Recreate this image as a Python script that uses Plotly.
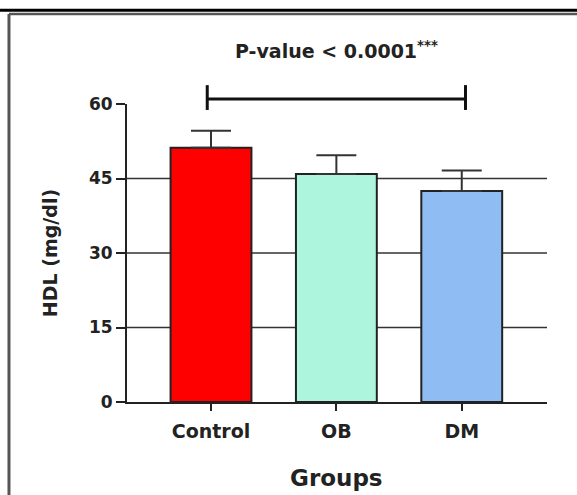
import plotly.graph_objects as go

groups = ["Control", "OB", "DM"]
hdl_mean = [51.2, 45.9, 42.5]
hdl_sd = [3.4, 3.8, 4.1]
bar_colors = ["#FF0000", "#ADF5DC", "#8FBCF2"]
y_ticks = [0, 15, 30, 45, 60]
grid_values = [15, 30, 45]
p_text = "P-value < 0.0001<sup>***</sup>"
y_title = "HDL (mg/dl)"
x_title = "Groups"

FONT = "DejaVu Sans, sans-serif"
INK = "#222222"
Y_MAX = 60

fig = go.Figure()
fig.add_trace(go.Bar(
    x=groups, y=hdl_mean, width=0.645,
    marker=dict(color=bar_colors, line=dict(color=INK, width=2)),
    error_y=dict(type="data", symmetric=False, array=hdl_sd,
                 arrayminus=[0] * len(hdl_sd), color="#333333",
                 thickness=2, width=20),
    showlegend=False,
))

shapes = []
for g in grid_values:
    shapes.append(dict(type="line", xref="paper", yref="y", x0=0, x1=1,
                       y0=g, y1=g, layer="below",
                       line=dict(color="#333333", width=1.5)))
# significance bracket (Control vs DM), above the axis range -> paper units
br_y, br_lo, br_hi = 61.0 / Y_MAX, 58.8 / Y_MAX, 63.8 / Y_MAX
br_x0, br_x1 = -0.03, 2.03
shapes.append(dict(type="line", xref="x", yref="paper", x0=br_x0, x1=br_x1,
                   y0=br_y, y1=br_y, line=dict(color="#111111", width=3)))
for xi in (br_x0, br_x1):
    shapes.append(dict(type="line", xref="x", yref="paper", x0=xi, x1=xi,
                       y0=br_lo, y1=br_hi, line=dict(color="#111111", width=3)))
# outer frame lines
shapes.append(dict(type="line", xref="paper", yref="paper", x0=-0.31, x1=1.1,
                   y0=1.315, y1=1.315, line=dict(color="#000000", width=3)))
shapes.append(dict(type="line", xref="paper", yref="paper", x0=-0.281, x1=1.1,
                   y0=1.302, y1=1.302, line=dict(color="#555555", width=2.5)))
shapes.append(dict(type="line", xref="paper", yref="paper", x0=-0.281, x1=-0.281,
                   y0=1.302, y1=-0.4, line=dict(color="#555555", width=3)))

annotations = [
    dict(text=p_text, xref="x", yref="paper", x=1, y=70.9 / Y_MAX,
         xanchor="center", yanchor="middle", showarrow=False,
         font=dict(family=FONT, size=19, color=INK, weight="bold")),
    dict(text=y_title, xref="paper", yref="y", x=-0.183, y=30,
         xanchor="center", yanchor="middle", textangle=-90, showarrow=False,
         font=dict(family=FONT, size=19, color=INK, weight="bold")),
    dict(text=x_title, xref="x", yref="paper", x=1, y=-0.255,
         xanchor="center", yanchor="middle", showarrow=False,
         font=dict(family=FONT, size=23, color=INK, weight="bold")),
]

fig.update_layout(
    width=577, height=495,
    margin=dict(l=127, r=30, t=104, b=93),
    paper_bgcolor="white", plot_bgcolor="white",
    shapes=shapes, annotations=annotations,
    font=dict(family=FONT, color=INK),
    xaxis=dict(range=[-0.67, 2.68], showline=True, linecolor=INK, linewidth=2,
               ticks="outside", ticklen=7, tickwidth=2, tickcolor=INK,
               ticklabelstandoff=4,
               showgrid=False, zeroline=False,
               tickfont=dict(family=FONT, size=19, color=INK, weight="bold")),
    yaxis=dict(range=[0, Y_MAX], tickvals=y_ticks, showline=True, linecolor=INK,
               linewidth=2, ticks="outside", ticklen=9, tickwidth=2, tickcolor=INK,
               showgrid=False, zeroline=False,
               tickfont=dict(family=FONT, size=17, color=INK, weight="bold")),
)

fig.write_html("out.html")
